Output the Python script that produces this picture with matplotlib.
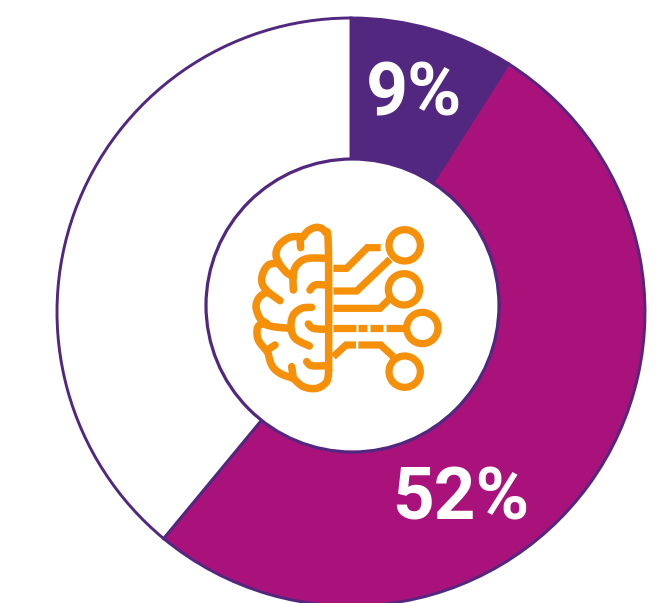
import numpy as np
import matplotlib.pyplot as plt
from matplotlib.patches import Circle

shares = [9, 52, 39]
share_labels = ['9%', '52%']
colors = ['#52277f', '#aa127b', '#ffffff']
PURPLE = '#52277f'
ORANGE = '#f59008'

# icon outline, traced in a 3x crop whose corner is at (230, 210)
brain_curves = [
    [(296, 480), (295, 110), (285, 65), (262, 52), (235, 62), (218, 82)],
    [(218, 80), (180, 82), (148, 105), (138, 135), (150, 165)],
    [(145, 160), (115, 165), (97, 195), (98, 225), (118, 250)],
    [(112, 245), (88, 262), (78, 290), (90, 325), (110, 340)],
    [(95, 340), (82, 355), (85, 390), (112, 425)],
    [(112, 420), (125, 465), (150, 490), (190, 505)],
    [(190, 505), (220, 530), (260, 535), (290, 515), (296, 480)],
    [(210, 85), (212, 113)],
    [(190, 240), (190, 190), (205, 160), (235, 145), (290, 145)],
    [(150, 165), (170, 188), (190, 200)],
    [(112, 245), (150, 272)],
    [(95, 340), (130, 350), (180, 355)],
    [(245, 292), (215, 295), (190, 315), (183, 350), (195, 385), (238, 408)],
    [(290, 225), (255, 225), (240, 240)],
    [(235, 342), (250, 355), (290, 358)],
    [(135, 405), (112, 420)],
    [(185, 470), (190, 505)],
    [(230, 455), (245, 467), (290, 467)],
]
circuit_lines = [
    [(310, 175), (350, 175), (412, 113), (452, 113)],
    [(310, 243), (380, 243), (480, 148)],
    [(310, 295), (450, 295), (480, 265)],
    [(310, 355), (378, 355)],
    [(385, 355), (410, 355)],
    [(420, 355), (460, 355)],
    [(468, 355), (535, 355)],
    [(310, 440), (348, 405), (378, 405)],
    [(385, 405), (452, 405), (490, 440)],
]
node_centers = [(524, 106), (522, 238), (577, 354), (524, 485)]


def to_px(points):
    pts = np.array(points, dtype=float)
    return 230 + pts[:, 0] / 3, 210 + pts[:, 1] / 3


def smooth(points, steps=12):
    # catmull-rom through the traced points, only for the icon
    pts = np.array(points, dtype=float)
    if len(pts) < 3:
        return pts
    p = np.vstack([pts[0], pts, pts[-1]])
    out = []
    for i in range(1, len(p) - 2):
        for t in np.linspace(0, 1, steps, endpoint=False):
            out.append(0.5 * (2 * p[i] + (p[i + 1] - p[i - 1]) * t
                              + (2 * p[i - 1] - 5 * p[i] + 4 * p[i + 1] - p[i + 2]) * t ** 2
                              + (3 * p[i] - p[i - 1] - 3 * p[i + 1] + p[i + 2]) * t ** 3))
    out.append(pts[-1])
    return np.array(out)


fig = plt.figure(figsize=(6.57, 6.03), dpi=100)
ax = fig.add_axes([0, 0, 1, 1])

# y axis is flipped, so increasing angle runs clockwise on screen
ax.pie(shares, colors=colors, center=(351, 312), radius=294, startangle=-90, counterclock=True,
       wedgeprops={'edgecolor': PURPLE, 'linewidth': 2.1}, frame=True)
ax.set_xlim(0, 657)
ax.set_ylim(603, 0)
ax.set_aspect('equal')
ax.axis('off')

ax.add_patch(Circle((352.5, 305.5), 146.5, facecolor='white', edgecolor=PURPLE, linewidth=2.3, zorder=3))

ax.text(414.5, 116, share_labels[0], color='white', fontsize=53, fontweight='bold', family='Roboto',
        ha='center', va='baseline', zorder=4)
ax.text(460.5, 520, share_labels[1], color='white', fontsize=52.5, fontweight='bold', family='Roboto',
        ha='center', va='baseline', zorder=4)

for curve in brain_curves:
    x, y = to_px(smooth(curve))
    ax.plot(x, y, color=ORANGE, lw=5.4, solid_capstyle='round', solid_joinstyle='round', zorder=5)
for line in circuit_lines:
    x, y = to_px(line)
    ax.plot(x, y, color=ORANGE, lw=5.2, solid_capstyle='butt', solid_joinstyle='miter', zorder=5)
for center in node_centers:
    x, y = to_px([center])
    ax.add_patch(Circle((x[0], y[0]), 47 / 3, facecolor='white', edgecolor=ORANGE, linewidth=5.2, zorder=5))

plt.savefig('out.png', dpi=100)
plt.close()
